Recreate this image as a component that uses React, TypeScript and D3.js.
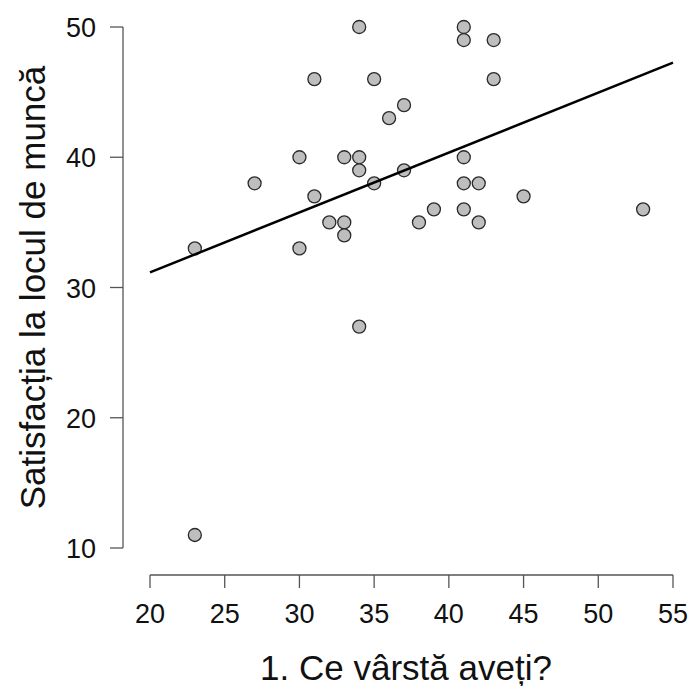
import React from "react";
import * as d3 from "d3";

// age (x) and job satisfaction (y) for each respondent
const ages = [23, 23, 27, 30, 30, 31, 31, 32, 33, 33, 33, 34, 34, 34, 34, 35, 35, 36, 37, 37, 38, 39, 41, 41, 41, 41, 41, 42, 42, 43, 43, 45, 53];
const satisfaction = [33, 11, 38, 40, 33, 46, 37, 35, 40, 35, 34, 50, 40, 39, 27, 46, 38, 43, 44, 39, 35, 36, 50, 49, 40, 38, 36, 38, 35, 49, 46, 37, 36];

const xTicks = [20, 25, 30, 35, 40, 45, 50, 55];
const yTicks = [10, 20, 30, 40, 50];

const xTitle = "1. Ce vârstă aveți?";
const yTitle = "Satisfacția la locul de muncă";

const W = 691, H = 686;
const FONT = "'Liberation Sans', Arial, sans-serif";

export default function App() {
  const x = d3.scaleLinear().domain([20, 55]).range([150, 673]);
  const y = d3.scaleLinear().domain([10, 50]).range([548, 27]);

  // least squares fit
  const mx = d3.mean(ages) as number;
  const my = d3.mean(satisfaction) as number;
  let sxy = 0, sxx = 0;
  ages.forEach((a, i) => {
    sxy += (a - mx) * (satisfaction[i] - my);
    sxx += (a - mx) * (a - mx);
  });
  const slope = sxy / sxx;
  const intercept = my - slope * mx;
  const fit = [20, 55].map(v => [v, intercept + slope * v] as [number, number]);
  const line = d3.line<[number, number]>().x(d => x(d[0])).y(d => y(d[1]));

  const axisY = 575, axisX = 123;

  return (
    <svg width={W} height={H} style={{ position: "absolute", left: 0, top: 0, background: "#fff" }} fontFamily={FONT}>
      {/* x axis */}
      <g>
        <line x1={x(20)} x2={x(55)} y1={axisY} y2={axisY} stroke="#555" strokeWidth={1.3} />
        {xTicks.map(t => (
          <g key={t}>
            <line x1={x(t)} x2={x(t)} y1={axisY} y2={axisY + 13} stroke="#555" strokeWidth={1.3} />
            <text x={x(t)} y={623} textAnchor="middle" fontSize={27} fill="#111">{t}</text>
          </g>
        ))}
        <text x={406} y={680} textAnchor="middle" fontSize={35} fill="#111">{xTitle}</text>
      </g>
      {/* y axis */}
      <g>
        <line x1={axisX} x2={axisX} y1={y(10)} y2={y(50)} stroke="#555" strokeWidth={1.3} />
        {yTicks.map(t => (
          <g key={t}>
            <line x1={axisX - 13} x2={axisX} y1={y(t)} y2={y(t)} stroke="#555" strokeWidth={1.3} />
            <text x={96} y={y(t) + 10} textAnchor="end" fontSize={27} fill="#111">{t}</text>
          </g>
        ))}
        <text transform={`translate(45,${y(30)}) rotate(-90)`} textAnchor="middle" fontSize={35} fill="#111">{yTitle}</text>
      </g>
      {/* points */}
      {ages.map((a, i) => (
        <circle key={i} cx={x(a)} cy={y(satisfaction[i])} r={6.5} fill="#bebebe" stroke="#2a2a2a" strokeWidth={1.3} />
      ))}
      <path d={line(fit) as string} fill="none" stroke="#000" strokeWidth={2.5} />
    </svg>
  );
}
